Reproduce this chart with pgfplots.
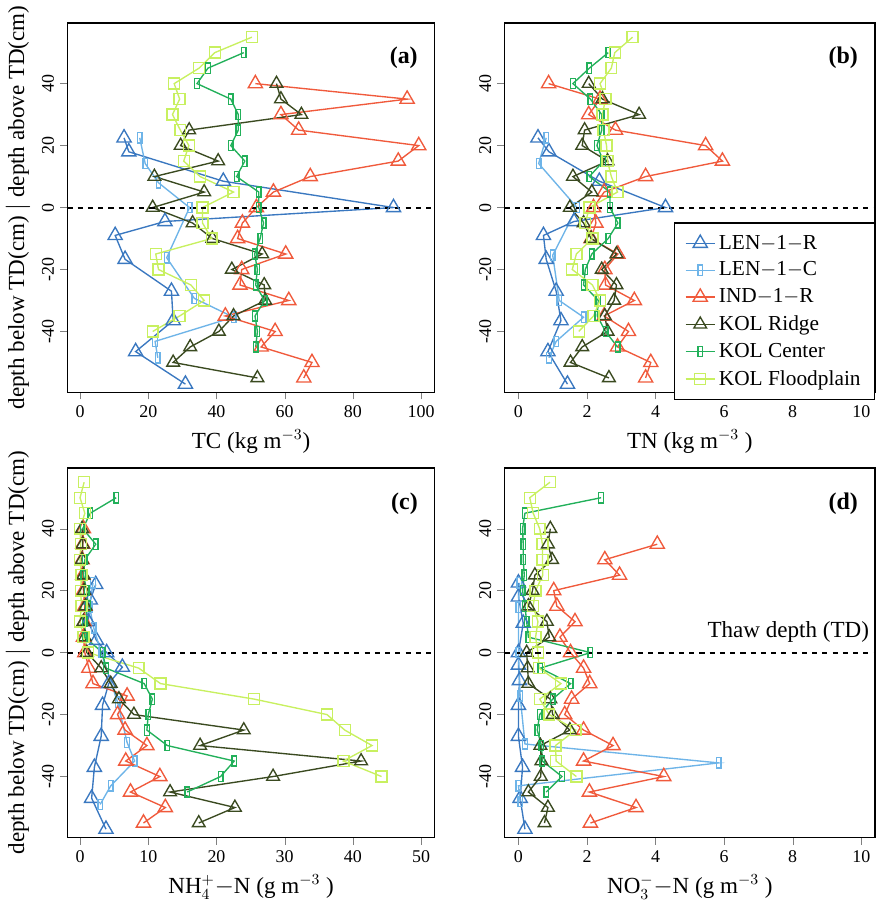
\documentclass[border=0pt]{standalone}
\usepackage{pgfplots}
\pgfplotsset{compat=1.18}
\usepackage{fontspec}
\setmainfont{Liberation Serif}
\definecolor{cLR}{HTML}{3A78C0}
\definecolor{cLC}{HTML}{6EB4E8}
\definecolor{cIR}{HTML}{F05A3C}
\definecolor{cKR}{HTML}{3A4A20}
\definecolor{cKC}{HTML}{22B05A}
\definecolor{cKF}{HTML}{C8F060}
\pgfplotsset{
  myax/.style={scale only axis, height=7.6cm, ymin=-59.6, ymax=59.6,
    ytick={-40,-20,0,20,40}, tick align=outside, xtick pos=bottom, ytick pos=left,
    yticklabel style={rotate=90, font=\fontsize{10.5}{12}\selectfont},
    xticklabel style={font=\fontsize{10.5}{12}\selectfont},
    /pgf/number format/assume math mode=true,
    label style={font=\fontsize{13.5}{15}\selectfont},
    ylabel={depth below TD(cm) $|$ depth above TD(cm)},
    clip=false, axis line style={thick}},
  sLR/.style={color=cLR, thick, mark=triangle, mark size=4.8pt, mark options={solid, thick}},
  sLC/.style={color=cLC, thick, mark=square, mark size=3pt, mark options={solid, thick, xscale=0.45}},
  sIR/.style={color=cIR, thick, mark=triangle, mark size=4.8pt, mark options={solid, thick}},
  sKR/.style={color=cKR, thick, mark=triangle, mark size=4.3pt, mark options={solid, thick}},
  sKC/.style={color=cKC, thick, mark=square, mark size=3pt, mark options={solid, thick, xscale=0.45}},
  sKF/.style={color=cKF, thick, mark=square, mark size=3.2pt, mark options={solid, thick}},
}
\begin{document}
\begin{tikzpicture}
\path (0,0) rectangle (18.1,18.08);
% (a)
\begin{axis}[myax, at={(1.34cm,10.24cm)}, anchor=south west, width=7.56cm,
  xmin=-3.7, xmax=104, xtick={0,20,40,60,80,100}, xlabel={TC (kg m$^{-3}$)}]
\addplot[sLR] coordinates {(12.9,22.5)(14.3,18)(42,8.5)(91.9,0)(24.9,-4.5)(10.3,-9)(13.2,-16.7)(26.8,-27)(27.3,-36.5)(16.3,-46.5)(30.9,-57)};
\addplot[sLC] coordinates {(17.5,22.5)(19.1,14.2)(23,8)(32.1,0)(25.4,-16.2)(33.5,-29.3)(45,-35.4)(22,-43.2)(22.8,-48.5)};
\addplot[sIR] coordinates {(51.4,40)(95.9,35)(58.9,30)(64.1,25)(99.3,20)(93.3,15)(67.5,10)(56.7,5)(51.7,0)(47.6,-5)(46.2,-10)(60.3,-15)(47.4,-20)(46.9,-25)(61.2,-30)(42.6,-35)(57.2,-40)(53.1,-45)(68,-50)(65.6,-55)};
\addplot[sKR] coordinates {(57.6,40)(58.9,35)(64.9,30)(32,25)(29.5,20)(40.5,15)(21.8,10)(36.4,5)(21.3,0)(33,-5)(38.8,-10)(53.4,-15)(44.5,-20)(54,-25)(54.3,-30)(45,-35)(40.7,-40)(32.3,-45)(27.3,-50)(52,-55)};
\addplot[sKC] coordinates {(48,50)(37.5,45)(34.3,40)(44.2,35)(46.4,30)(46.4,25)(44.2,20)(48.3,15)(45.9,10)(52.4,5)(52.4,0)(53.8,-5)(52.8,-10)(51.2,-15)(52,-20)(51.5,-25)(54.1,-30)(51.3,-35)(52,-40)(51.5,-45)};
\addplot[sKF] coordinates {(50.4,55)(39.5,50)(34.9,45)(27.6,40)(29.2,35)(27.1,30)(29.4,25)(31.9,20)(30.4,15)(35.2,10)(45,5)(35.9,0)(35.9,-5)(38.6,-10)(22.2,-15)(23,-20)(32.5,-25)(36.4,-30)(29.2,-35)(21.3,-40)};
\addplot[black, very thick, dashed, forget plot] coordinates {(-3.7,0)(104,0)};
\node[anchor=north east, font=\bfseries\fontsize{14}{16}\selectfont] at (rel axis cs:0.97,0.95) {(a)};
\end{axis}
% (b)
\begin{axis}[myax, at={(10.34cm,10.24cm)}, anchor=south west, width=7.62cm, ylabel={},
  xmin=-0.4, xmax=10.4, xtick={0,2,4,6,8,10}, xlabel={TN (kg m$^{-3}$ )},
  legend style={at={(1,0.46)}, anchor=north east, font=\fontsize{12.5}{14}\selectfont, draw=black, thick, row sep=2pt, inner xsep=6pt, inner ysep=5pt},
  legend cell align=left]
\addplot[sLR] coordinates {(0.57,22.5)(0.89,18)(2.36,8.5)(4.29,0)(1.62,-4.5)(0.73,-9)(0.81,-16.7)(1.1,-27)(1.24,-36.5)(0.86,-46.5)(1.43,-57)};
\addplot[sLC] coordinates {(0.81,22.5)(0.59,14.2)(1.71,0)(1.0,-15.4)(1.19,-30)(1.9,-35.4)(1.1,-43.2)(0.89,-48.5)};
\addplot[sIR] coordinates {(0.88,40)(2.38,35)(2.05,30)(2.83,25)(5.46,20)(5.95,15)(3.71,10)(2.5,5)(2.19,0)(2.26,-5)(2.12,-10)(2.9,-15)(2.52,-20)(2.54,-25)(3.38,-30)(2.5,-35)(3.21,-40)(2.89,-45)(3.86,-50)(3.71,-55)};
\addplot[sKR] coordinates {(2.05,40)(2.45,35)(3.52,30)(1.93,25)(1.86,20)(2.6,15)(1.59,10)(2.14,5)(1.5,0)(1.9,-5)(2.12,-10)(2.86,-15)(2.43,-20)(2.86,-25)(2.79,-30)(2.52,-35)(2.6,-40)(1.86,-45)(1.52,-50)(2.64,-55)};
\addplot[sKC] coordinates {(2.62,50)(2.07,45)(1.59,40)(2.1,35)(2.43,30)(2.43,25)(2.29,20)(2.48,15)(2.07,10)(2.67,5)(2.67,0)(2.9,-5)(2.62,-10)(2.14,-15)(1.95,-20)(1.9,-25)(2.33,-30)(2.3,-35)(2.54,-40)(2.89,-45)};
\addplot[sKF] coordinates {(3.33,55)(2.81,50)(2.71,45)(2.38,40)(2.54,35)(2.45,30)(2.48,25)(2.57,20)(2.6,15)(2.71,10)(2.89,5)(2.07,0)(1.95,-5)(2.16,-10)(1.69,-15)(1.57,-20)(2.16,-25)(2.38,-30)(2.19,-35)(1.76,-40)};
\legend{LEN$-$1$-$R, LEN$-$1$-$C, IND$-$1$-$R, KOL Ridge, KOL Center, KOL Floodplain}
\addplot[black, very thick, dashed, forget plot] coordinates {(-0.4,0)(10.4,0)};
\node[anchor=north east, font=\bfseries\fontsize{14}{16}\selectfont] at (rel axis cs:0.97,0.95) {(b)};
\end{axis}
% (c)
\begin{axis}[myax, at={(1.34cm,1.08cm)}, anchor=south west, width=7.56cm,
  xmin=-1.85, xmax=52, xtick={0,10,20,30,40,50}, xlabel={NH$_4^+$$-$N (g m$^{-3}$ )}]
\addplot[sLR] coordinates {(2.3,22)(1.5,17)(1.2,10)(2.4,4)(3.9,0)(6.2,-4.7)(4.2,-10)(3.3,-17)(3.1,-27)(2.1,-37)(1.7,-47)(3.8,-57)};
\addplot[sLC] coordinates {(1.9,22.5)(1.4,14.7)(2,8)(3.1,0)(5.5,-16)(6.9,-29)(8,-35)(4.5,-43)(2.95,-49)};
\addplot[sIR] coordinates {(0.5,40)(0.4,35)(0.3,30)(0.4,25)(0.5,20)(0.7,15)(0.6,10)(0.5,5)(0.7,0)(1.3,-5)(1.9,-10)(6.9,-14)(5.5,-20)(6.6,-25)(9.8,-30)(6.7,-35)(11.7,-40)(7.4,-45)(12.5,-50)(9.3,-55)};
\addplot[sKR] coordinates {(0.3,40)(0.4,35)(0.3,30)(0.5,25)(0.6,20)(0.8,15)(0.5,10)(0.7,5)(1,0)(3.1,-5)(4.5,-10)(5.7,-15)(7.9,-20)(24,-25)(17.6,-30)(41.2,-35)(28.3,-40)(13.2,-45)(22.7,-50)(17.4,-55)};
\addplot[sKC] coordinates {(5.3,50)(1.5,45)(0.4,40)(2.3,35)(0.7,30)(0.5,25)(1,20)(1.2,15)(0.7,10)(0.7,5)(3.3,0)(3.8,-5)(9.4,-10)(10.6,-15)(10,-20)(9.8,-25)(12.8,-30)(22.6,-35)(20.6,-40)(15.7,-45)};
\addplot[sKF] coordinates {(0.6,55)(0,50)(0.7,45)(0,40)(0.1,35)(0,30)(0.2,25)(0.1,20)(0.2,15)(0,10)(0.5,5)(1.2,0)(8.6,-5)(11.8,-10)(25.5,-15)(36.2,-20)(38.8,-25)(42.8,-30)(38.6,-35)(44.2,-40)};
\addplot[black, very thick, dashed, forget plot] coordinates {(-1.85,0)(52,0)};
\node[anchor=north east, font=\bfseries\fontsize{14}{16}\selectfont] at (rel axis cs:0.97,0.95) {(c)};
\end{axis}
% (d)
\begin{axis}[myax, at={(10.34cm,1.08cm)}, anchor=south west, width=7.62cm, ylabel={},
  xmin=-0.4, xmax=10.4, xtick={0,2,4,6,8,10}, xlabel={NO$_3^-$$-$N (g m$^{-3}$ )}]
\addplot[sLR] coordinates {(0,22.5)(0,18)(0.14,9.5)(0,0)(0,-4)(0.03,-9)(0,-17)(0,-27)(0.12,-37)(0.05,-47)(0.19,-57)};
\addplot[sLC] coordinates {(0.03,22.5)(0,14.7)(0,0)(0.05,-14)(0.19,-29.5)(5.84,-35.6)(0,-43)(0.05,-48)};
\addplot[sIR] coordinates {(4.05,35)(2.52,30)(2.95,25)(1.03,20)(1.12,15)(1.65,10)(1.21,5)(1.52,0)(1.9,-5)(2.08,-10)(1.55,-15)(1.35,-20)(1.9,-25)(2.76,-30)(1.9,-35)(4.24,-40)(2.07,-45)(3.43,-50)(2.1,-55)};
\addplot[sKR] coordinates {(0.93,40)(0.86,35)(0.98,30)(0.48,25)(0.41,20)(0.29,15)(0.83,10)(0.9,5)(0.24,0)(0.27,-5)(0.29,-10)(0.93,-15)(1,-20)(1.5,-25)(0.64,-30)(0.67,-35)(0.65,-40)(0.29,-45)(0.86,-50)(0.76,-55)};
\addplot[sKC] coordinates {(2.41,50)(0.19,45)(0.12,40)(0.14,35)(0.14,30)(0.17,25)(0.12,20)(0.19,15)(0.24,10)(0.29,5)(2.1,0)(0.64,-5)(1.52,-10)(1,-15)(0.62,-20)(0.55,-25)(0.67,-30)(0.7,-35)(1.27,-40)(0.81,-45)};
\addplot[sKF] coordinates {(0.92,55)(0.33,50)(0.43,45)(0.62,40)(0.7,35)(0.7,30)(0.71,25)(0.5,20)(0.43,15)(0.57,10)(0.5,5)(0.57,0)(0.6,-5)(1.24,-10)(0.62,-15)(0.9,-20)(1.67,-25)(1.08,-30)(1.1,-35)(1.69,-40)};
\addplot[black, very thick, dashed, forget plot] coordinates {(-0.4,0)(10.4,0)};
\node[anchor=south east, font=\fontsize{13.5}{15}\selectfont] at (axis cs:10.4,1.5) {Thaw depth (TD)};
\node[anchor=north east, font=\bfseries\fontsize{14}{16}\selectfont] at (rel axis cs:0.97,0.95) {(d)};
\end{axis}
\end{tikzpicture}
\end{document}
